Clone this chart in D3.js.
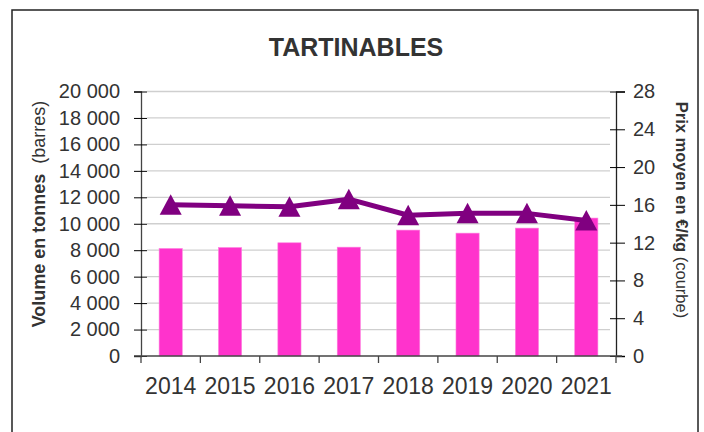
<!DOCTYPE html>
<html>
<head>
<meta charset="utf-8">
<script src="https://cdn.jsdelivr.net/npm/d3@7"></script>
<style>
  body { margin: 0; background: #fff; }
  svg text { font-family: "Liberation Sans", Arial, sans-serif; fill: #333; }
</style>
</head>
<body>
<svg id="chart" width="704" height="432"></svg>
<script>
// data
var years = ["2014", "2015", "2016", "2017", "2018", "2019", "2020", "2021"];
var volumes = [8130, 8200, 8560, 8230, 9520, 9290, 9670, 10430];   // tonnes (bars)
var prices = [16.0, 15.9, 15.8, 16.6, 14.9, 15.1, 15.1, 14.35];    // EUR/kg (line)
var volumeTicks = [0, 2000, 4000, 6000, 8000, 10000, 12000, 14000, 16000, 18000, 20000];
var priceTicks = [0, 4, 8, 12, 16, 20, 24, 28];

var svg = d3.select("#chart");

// frame around the chart
svg.append("rect")
    .attr("x", 12).attr("y", 10)
    .attr("width", 686).attr("height", 440)
    .attr("fill", "none")
    .attr("stroke", "#222")
    .attr("stroke-width", 1.5);

// plot area (window.top is reserved, so prefixed names)
var plotLeft = 141, plotRight = 616, plotTop = 91.5, plotBottom = 356;

var x = d3.scaleBand().domain(years).range([plotLeft, plotRight]).paddingInner(0.61).paddingOuter(0.305);
var xEdge = d3.scaleLinear().domain([0, years.length]).range([plotLeft, plotRight]);
var yVol = d3.scaleLinear().domain([0, 20000]).range([plotBottom, plotTop]);
var yPrice = d3.scaleLinear().domain([0, 28]).range([plotBottom, plotTop]);

var fmt = function (d) { return d3.format(",")(d).replace(/,/g, " "); };

// horizontal gridlines
svg.append("g")
    .selectAll("line")
    .data(volumeTicks.slice(1))
    .enter()
    .append("line")
    .attr("x1", plotLeft + 6).attr("x2", plotRight - 6)
    .attr("y1", function (d) { return yVol(d); })
    .attr("y2", function (d) { return yVol(d); })
    .attr("stroke", "#cfcfcf")
    .attr("stroke-width", 1.3);

// bars
svg.append("g")
    .selectAll("rect")
    .data(volumes)
    .enter()
    .append("rect")
    .attr("x", function (d, i) { return x(years[i]); })
    .attr("y", function (d) { return yVol(d); })
    .attr("width", x.bandwidth())
    .attr("height", function (d) { return plotBottom - yVol(d); })
    .attr("fill", "#ff33cc")
    .attr("stroke", "#ff80e0")
    .attr("stroke-width", 0.6);

// left axis
var gLeft = svg.append("g")
    .attr("transform", "translate(" + plotLeft + ",0)")
    .call(d3.axisLeft(yVol).tickValues(volumeTicks).tickSize(7).tickPadding(14).tickFormat(fmt));
gLeft.selectAll(".tick line").attr("x1", 6);
gLeft.selectAll(".tick text").attr("font-size", 20).style("fill", "#333");
gLeft.select(".domain").attr("stroke", "#444").attr("stroke-width", 1.3);

// right axis
var gRight = svg.append("g")
    .attr("transform", "translate(" + plotRight + ",0)")
    .call(d3.axisRight(yPrice).tickValues(priceTicks).tickSize(9).tickPadding(8));
gRight.selectAll(".tick line").attr("x1", -6);
gRight.selectAll(".tick text").attr("font-size", 20).style("fill", "#333");
gRight.select(".domain").attr("stroke", "#222").attr("stroke-width", 1.3);

// bottom axis: ticks at category boundaries
var gBottom = svg.append("g").attr("transform", "translate(0," + plotBottom + ")");
gBottom.append("line")
    .attr("x1", plotLeft - 7).attr("x2", plotRight + 6)
    .attr("stroke", "#444").attr("stroke-width", 1.3);
gBottom.selectAll("line.edge")
    .data(d3.range(years.length + 1))
    .enter()
    .append("line")
    .attr("class", "edge")
    .attr("x1", function (d) { return xEdge(d); })
    .attr("x2", function (d) { return xEdge(d); })
    .attr("y1", 0).attr("y2", 7)
    .attr("stroke", "#444").attr("stroke-width", 1.3);
gBottom.selectAll("text")
    .data(years)
    .enter()
    .append("text")
    .attr("x", function (d) { return x(d) + x.bandwidth() / 2; })
    .attr("y", 38)
    .attr("text-anchor", "middle")
    .attr("font-size", 23)
    .text(function (d) { return d; });

// price line
var line = d3.line()
    .x(function (d, i) { return x(years[i]) + x.bandwidth() / 2; })
    .y(function (d) { return yPrice(d); });
svg.append("path")
    .datum(prices)
    .attr("d", line)
    .attr("fill", "none")
    .attr("stroke", "#800080")
    .attr("stroke-width", 5)
    .attr("stroke-linejoin", "round");

// triangle markers
svg.append("g")
    .selectAll("path")
    .data(prices)
    .enter()
    .append("path")
    .attr("transform", function (d, i) {
        return "translate(" + (x(years[i]) + x.bandwidth() / 2) + "," + yPrice(d) + ")";
    })
    .attr("d", "M0,-10.5L11,10L-11,10Z")
    .attr("fill", "#800080");

// title
svg.append("text")
    .attr("x", 356).attr("y", 56)
    .attr("text-anchor", "middle")
    .attr("font-size", 25)
    .attr("font-weight", "bold")
    .text("TARTINABLES");

// left axis title
var tl = svg.append("text")
    .attr("transform", "translate(45,214) rotate(-90)")
    .attr("text-anchor", "middle")
    .attr("font-size", 18);
tl.append("tspan").attr("font-weight", "bold").text("Volume en tonnes");
tl.append("tspan").text("\u00a0 (barres)");

// right axis title
var tr = svg.append("text")
    .attr("transform", "translate(676,210) rotate(90)")
    .attr("text-anchor", "middle")
    .attr("font-size", 16.5);
tr.append("tspan").attr("font-weight", "bold").text("Prix moyen en \u20ac/kg");
tr.append("tspan").text("\u00a0(courbe)");
</script>
</body>
</html>
